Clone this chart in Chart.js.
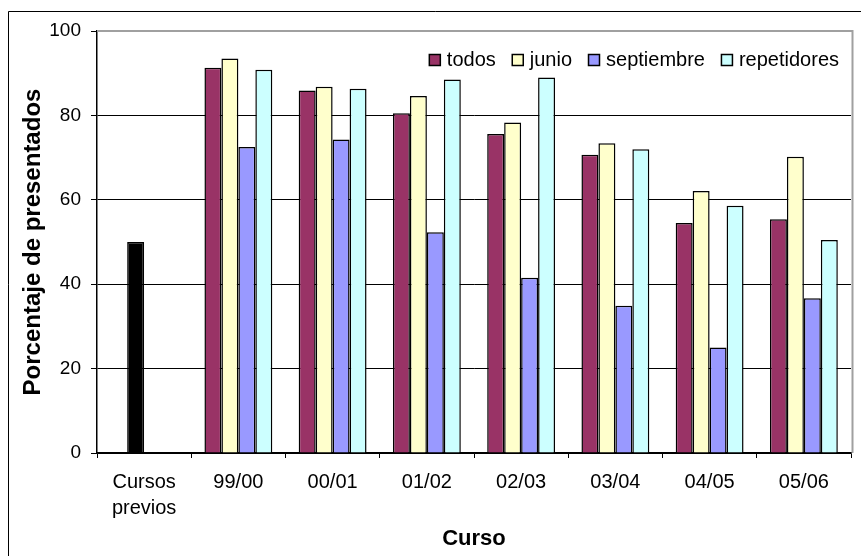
<!DOCTYPE html>
<html>
<head>
<meta charset="utf-8">
<script src="https://cdn.jsdelivr.net/npm/chart.js@4/dist/chart.umd.min.js"></script>
<style>
  html, body { margin: 0; padding: 0; background: #fff; }
  #wrap { width: 861px; height: 556px; position: relative; }
</style>
</head>
<body>
<div id="wrap"><canvas id="c" width="861" height="556"></canvas></div>
<script>
// Categories (x axis)
const cursos = [['Cursos', 'previos'], '99/00', '00/01', '01/02', '02/03', '03/04', '04/05', '05/06'];
// Percentage presented before the new plan (single black bar)
const cursosPrevios = 50;
// Percentage presented per course, 99/00 .. 05/06
const todos       = [91.3, 85.9, 80.5, 75.6, 70.7, 54.5, 55.4];
const junio       = [93.5, 86.8, 84.6, 78.3, 73.4, 62.1, 70.2];
const septiembre  = [72.5, 74.3, 52.3, 41.5, 34.9, 25.0, 36.7];
const repetidores = [90.8, 86.3, 88.5, 89.0, 72.0, 58.6, 50.5];
// Y axis ticks
const yTicks = [0, 20, 40, 60, 80, 100];

const FONT = '"Liberation Sans", Arial, sans-serif';
const colors = {
  todos: '#993366',
  junio: '#FFFFCC',
  septiembre: '#9999FF',
  repetidores: '#CCFFFF',
  previos: '#000000'
};

// First slot of each series is the "Cursos previos" category
const todosData = [null, ...todos];
const junioData = [cursosPrevios, ...junio];
const septData  = [null, ...septiembre];
const repData   = [null, ...repetidores];

// Outer frame and the grey plot-area border
const framePlugin = {
  id: 'frame',
  beforeDraw(chart) {
    const ctx = chart.ctx;
    ctx.save();
    ctx.fillStyle = '#fff';
    ctx.fillRect(0, 0, chart.width, chart.height);
    ctx.strokeStyle = '#000';
    ctx.lineWidth = 1;
    ctx.beginPath();
    ctx.moveTo(8.5, chart.height + 2);
    ctx.lineTo(8.5, 11.5);
    ctx.lineTo(chart.width + 2, 11.5);
    ctx.stroke();
    ctx.restore();
  },
  beforeDatasetsDraw(chart) {
    const a = chart.chartArea;
    const ctx = chart.ctx;
    ctx.save();
    ctx.strokeStyle = '#A0A0A0';
    ctx.lineWidth = 2;
    ctx.beginPath();
    ctx.moveTo(a.left, a.top);
    ctx.lineTo(a.right + 1.5, a.top);
    ctx.lineTo(a.right + 1.5, a.bottom);
    ctx.stroke();
    ctx.restore();
  }
};

// Legend drawn inside the plot area, top right
const legendPlugin = {
  id: 'innerLegend',
  afterDatasetsDraw(chart) {
    const ctx = chart.ctx;
    const a = chart.chartArea;
    const items = chart.data.datasets.map(d => ({ text: d.label, color: d.legendColor }));
    ctx.save();
    ctx.font = '20px ' + FONT;
    const box = 11, gap = 7, spacing = 16;
    const widths = items.map(it => box + gap + ctx.measureText(it.text).width);
    const total = widths.reduce((s, w) => s + w, 0) + spacing * (items.length - 1);
    let x = a.right - 12 - total;
    const baseline = 66;
    items.forEach((it, i) => {
      ctx.fillStyle = it.color;
      ctx.fillRect(x + 0.5, baseline - 11.5, box, box);
      ctx.strokeStyle = '#000';
      ctx.lineWidth = 1.5;
      ctx.strokeRect(x + 0.5, baseline - 11.5, box, box);
      ctx.fillStyle = '#000';
      ctx.textBaseline = 'alphabetic';
      ctx.textAlign = 'left';
      ctx.fillText(it.text, x + box + gap, baseline);
      x += widths[i] + spacing;
    });
    ctx.restore();
  }
};

const barCommon = {
  borderColor: '#000',
  borderWidth: 1.5,
  borderSkipped: 'start',
  categoryPercentage: 0.72,
  barPercentage: 1.0
};

new Chart(document.getElementById('c'), {
  type: 'bar',
  data: {
    labels: cursos,
    datasets: [
      { ...barCommon, label: 'todos', data: todosData, backgroundColor: colors.todos, legendColor: colors.todos },
      { ...barCommon, label: 'junio', data: junioData,
        backgroundColor: junioData.map((v, i) => i === 0 ? colors.previos : colors.junio),
        legendColor: colors.junio },
      { ...barCommon, label: 'septiembre', data: septData, backgroundColor: colors.septiembre, legendColor: colors.septiembre },
      { ...barCommon, label: 'repetidores', data: repData, backgroundColor: colors.repetidores, legendColor: colors.repetidores }
    ]
  },
  options: {
    responsive: false,
    animation: false,
    devicePixelRatio: 1,
    layout: { padding: { top: 31, right: 10, left: 0, bottom: 0 } },
    plugins: {
      legend: { display: false },
      tooltip: { enabled: false }
    },
    scales: {
      x: {
        offset: true,
        afterFit(scale) { scale.height = 103; },
        grid: {
          offset: true,
          drawOnChartArea: false,
          drawTicks: true,
          tickLength: 5,
          color: '#000',
          lineWidth: 1
        },
        border: { display: true, color: '#000', width: 1.5 },
        ticks: {
          color: '#000',
          padding: 11,
          maxRotation: 0,
          autoSkip: false,
          font: { family: FONT, size: 20, lineHeight: 1.3 }
        },
        title: {
          display: true,
          text: 'Curso',
          color: '#000',
          padding: { top: 0, bottom: 4 },
          font: { family: FONT, size: 22, weight: 'bold', lineHeight: 1.2 }
        }
      },
      y: {
        min: 0,
        max: 100,
        afterFit(scale) { scale.width = 97; },
        afterBuildTicks(scale) { scale.ticks = yTicks.map(v => ({ value: v })); },
        grid: {
          drawTicks: true,
          tickLength: 6,
          color: (c) => (c.tick && c.tick.value === 100) ? '#A0A0A0' : '#000',
          tickColor: '#000',
          lineWidth: 1
        },
        border: { display: true, color: '#000', width: 1.5 },
        ticks: {
          color: '#000',
          padding: 10,
          font: { family: FONT, size: 19 }
        },
        title: {
          display: true,
          text: 'Porcentaje de presentados',
          color: '#000',
          padding: { top: 19, bottom: 0 },
          font: { family: FONT, size: 24, weight: 'bold', lineHeight: 1.2 }
        }
      }
    }
  },
  plugins: [framePlugin, legendPlugin]
});
</script>
</body>
</html>
